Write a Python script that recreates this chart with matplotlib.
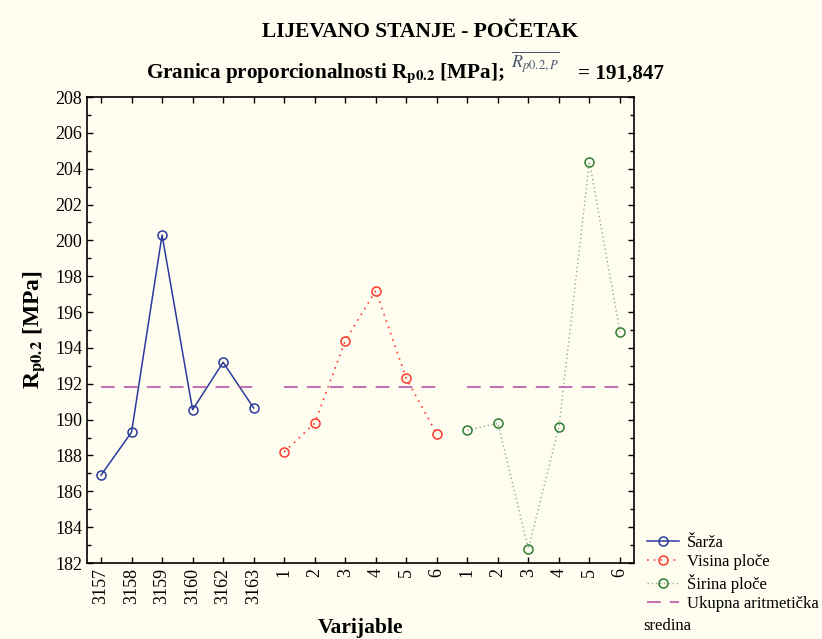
import matplotlib

matplotlib.use("Agg")
import matplotlib.pyplot as plt
from matplotlib.ticker import MultipleLocator

plt.rcParams["font.family"] = ["Liberation Serif", "DejaVu Serif"]
plt.rcParams["mathtext.fontset"] = "stix"

BG = "#FFFDF0"

# Rp0.2 values per group
sarza_labels = ["3157", "3158", "3159", "3160", "3162", "3163"]
sarza_vals = [186.9, 189.3, 200.3, 190.55, 193.2, 190.65]
visina_labels = ["1", "2", "3", "4", "5", "6"]
visina_vals = [188.2, 189.8, 194.4, 197.2, 192.3, 189.2]
sirina_labels = ["1", "2", "3", "4", "5", "6"]
sirina_vals = [189.4, 189.8, 182.8, 189.6, 204.4, 194.9]
mean_val = 191.847

fig = plt.figure(figsize=(8.22, 6.39), dpi=100, facecolor=BG)
ax = fig.add_axes([0.1058, 0.1189, 0.6655, 0.7293], facecolor=BG)

x1 = list(range(0, 6))
x2 = list(range(6, 12))
x3 = list(range(12, 18))

ax.plot(x1, sarza_vals, color="#2B3A9C", lw=1.1, marker="o", ms=6.5,
        mfc="none", mec="#2B3A9C", mew=1.1, label="Šarža")
ax.plot(x2, visina_vals, color="#FF3A2E", lw=1.2, ls=(0, (1, 3)), marker="o",
        ms=6.5, mfc="none", mec="#FF3A2E", mew=1.1, label="Visina ploče")
ax.plot(x3, sirina_vals, color="#8FB08F", lw=1.0, ls=(0, (1, 2)), marker="o",
        ms=6.5, mfc="none", mec="#2E7D32", mew=1.1, label="Širina ploče")

mean_kw = dict(color="#B3479E", lw=1.1, ls=(0, (9, 6)))
for grp in (x1, x2, x3):
    ax.plot([grp[0], grp[-1]], [mean_val, mean_val], **mean_kw)
ax.plot([], [], label="Ukupna aritmetička", **mean_kw)

ax.set_xlim(-0.46, 17.46)
ax.set_ylim(182, 208)
ax.set_xticks(x1 + x2 + x3)
ax.set_xticklabels(sarza_labels + visina_labels + sirina_labels, rotation=90)
ax.yaxis.set_major_locator(MultipleLocator(2))
ax.yaxis.set_minor_locator(MultipleLocator(1))
ax.tick_params(which="both", direction="in", top=True, right=True,
               labelsize=13, width=1.0)
ax.tick_params(which="major", length=4)
ax.tick_params(which="minor", length=3)
for sp in ax.spines.values():
    sp.set_linewidth(1.2)

ax.set_xlabel("Varijable", fontsize=15.5, fontweight="bold", labelpad=10)
ax.set_ylabel(r"R$_{\mathbf{p0.2}}$ [MPa]", fontsize=17, fontweight="bold",
              labelpad=6)

fig.text(0.511, 0.95, "LIJEVANO STANJE - POČETAK", ha="center", va="center",
         fontsize=15.5, fontweight="bold")
fig.text(0.178, 0.885, r"Granica proporcionalnosti R$_{\mathbf{p0.2}}$ [MPa];",
         ha="left", va="center", fontsize=15.2, fontweight="bold")
fig.text(0.622, 0.903, r"$\overline{R_{p0.2,P}}$", ha="left", va="center",
         fontsize=13, color="#4A5570")
fig.text(0.703, 0.885, "= 191,847", ha="left", va="center",
         fontsize=15.2, fontweight="bold")

fig.legend(loc="upper left", bbox_to_anchor=(0.787, 0.163), frameon=False,
           fontsize=12, handlelength=1.9, handletextpad=0.5,
           labelspacing=0.2, borderaxespad=0, borderpad=0)
fig.text(0.782, 0.02, "sredina", ha="left", va="center", fontsize=12)

fig.savefig("out.png", dpi=100, facecolor=BG)
